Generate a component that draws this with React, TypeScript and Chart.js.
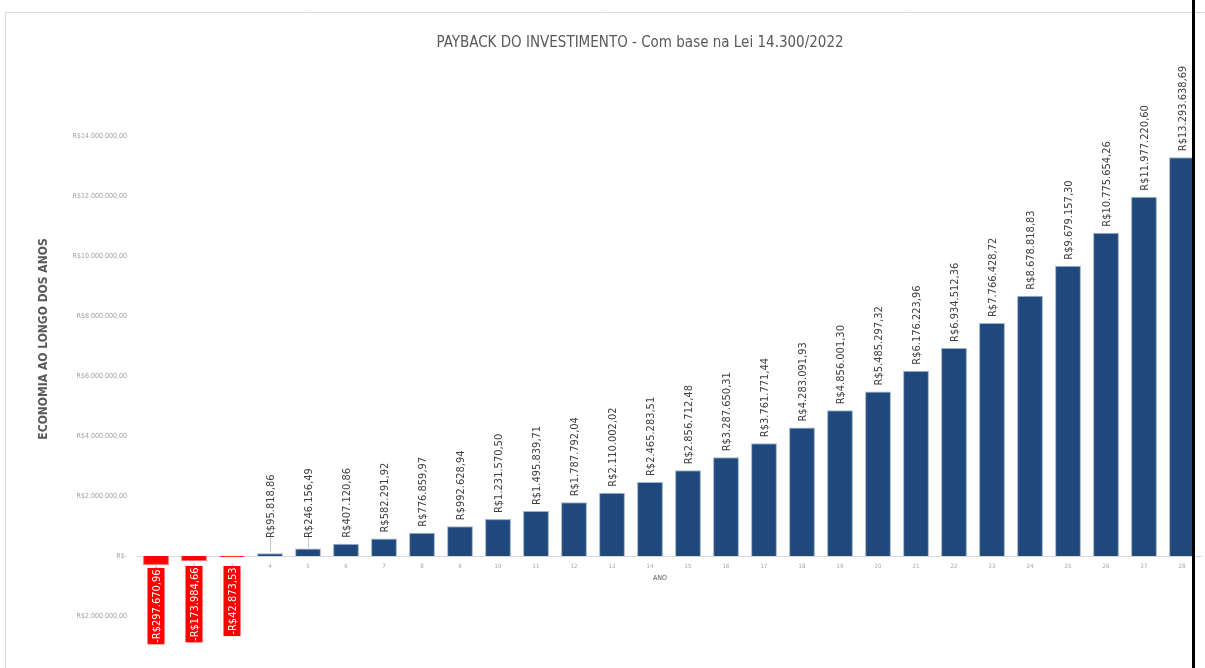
import { useEffect, useRef } from "react";
import { Chart, registerables } from "chart.js";

Chart.register(...registerables);

const TITLE = "PAYBACK DO INVESTIMENTO - Com base na Lei 14.300/2022";
const Y_TITLE = "ECONOMIA AO LONGO DOS ANOS";
const X_TITLE = "ANO";

const years = [
  "1", "2", "3", "4", "5", "6", "7", "8", "9", "10", "11", "12", "13", "14",
  "15", "16", "17", "18", "19", "20", "21", "22", "23", "24", "25", "26", "27", "28",
];

const savings = [
  -297670.96, -173984.66, -42873.53, 95818.86, 246156.49, 407120.86, 582291.92,
  776859.97, 992628.94, 1231570.5, 1495839.71, 1787792.04, 2110002.02, 2465283.51,
  2856712.48, 3287650.31, 3761771.44, 4283091.93, 4856001.3, 5485297.32, 6176223.96,
  6934512.36, 7766428.72, 8678818.83, 9679157.3, 10775654.26, 11977220.6, 13293638.69,
];

const Y_MIN = -2000000;
const Y_MAX = 14000000;
const Y_STEP = 2000000;

const NARROW = "'Liberation Sans Narrow', 'DejaVu Sans Condensed', 'Liberation Sans', sans-serif";

function groupInt(s: string) {
  return s.replace(/\B(?=(\d{3})+(?!\d))/g, ".");
}

function brl(v: number) {
  const neg = v < 0;
  const [i, d] = Math.abs(v).toFixed(2).split(".");
  return (neg ? "-" : "") + "R$" + groupInt(i) + "," + d;
}

function tickLabel(v: number) {
  if (v === 0) return "R$-";
  const [i, d] = Math.abs(v).toFixed(2).split(".");
  return "R$" + groupInt(i) + "," + d;
}

const decorPlugin = {
  id: "decor",
  beforeDraw(chart: any) {
    const ctx = chart.ctx;
    ctx.save();
    ctx.fillStyle = "#ffffff";
    ctx.fillRect(0, 0, chart.width, chart.height);
    ctx.restore();
  },
  afterDatasetsDraw(chart: any) {
    const ctx = chart.ctx;
    const meta = chart.getDatasetMeta(0);
    const zeroY = chart.scales.y.getPixelForValue(0);
    ctx.save();
    ctx.font = `11px ${NARROW}`;
    meta.data.forEach((bar: any, i: number) => {
      const v = savings[i];
      const text = brl(v);
      const w = ctx.measureText(text).width;
      if (v >= 0) {
        const top = bar.y;
        const base = Math.min(top - 6, zeroY - 18);
        if (top - base > 8) {
          ctx.strokeStyle = "#c8c8c8";
          ctx.lineWidth = 1;
          ctx.beginPath();
          ctx.moveTo(Math.round(bar.x) + 0.5, top - 1);
          ctx.lineTo(Math.round(bar.x) + 0.5, base - 1);
          ctx.stroke();
        }
        ctx.save();
        ctx.translate(bar.x + 1, base);
        ctx.rotate(-Math.PI / 2);
        ctx.fillStyle = "#404040";
        ctx.textAlign = "left";
        ctx.textBaseline = "middle";
        ctx.fillText(text, 0, 0);
        ctx.restore();
      } else {
        const bottom = bar.y;
        const boxTop = Math.max(bottom + 3, zeroY + 10);
        const boxH = w + 3;
        const boxW = 17;
        ctx.fillStyle = "#FF0000";
        ctx.fillRect(bar.x - boxW / 2, boxTop, boxW, boxH);
        ctx.save();
        ctx.translate(bar.x + 1, boxTop + boxH - 1.5);
        ctx.rotate(-Math.PI / 2);
        ctx.fillStyle = "#ffffff";
        ctx.textAlign = "left";
        ctx.textBaseline = "middle";
        ctx.fillText(text, 0, 0);
        ctx.restore();
      }
    });
    ctx.restore();
  },
  afterDraw(chart: any) {
    const ctx = chart.ctx;
    ctx.save();
    // frame
    ctx.strokeStyle = "#d9d9d9";
    ctx.lineWidth = 1;
    ctx.beginPath();
    ctx.moveTo(5.5, chart.height);
    ctx.lineTo(5.5, 12.5);
    ctx.lineTo(chart.width, 12.5);
    ctx.stroke();
    // title
    ctx.fillStyle = "#595959";
    ctx.font = `15px ${NARROW}`;
    ctx.textAlign = "center";
    ctx.textBaseline = "middle";
    ctx.fillText(TITLE, 640, 43);
    // y title
    ctx.save();
    ctx.translate(44, 339);
    ctx.rotate(-Math.PI / 2);
    ctx.font = `bold 12px ${NARROW}`;
    ctx.fillText(Y_TITLE, 0, 0);
    ctx.restore();
    // x title
    ctx.font = `7px ${NARROW}`;
    ctx.fillText(X_TITLE, 660, 578);
    // black edge line
    ctx.fillStyle = "#000000";
    ctx.fillRect(1192, 0, 3, chart.height);
    ctx.restore();
  },
};

export default function App() {
  const ref = useRef<HTMLCanvasElement | null>(null);

  useEffect(() => {
    if (!ref.current) return;
    const chart = new Chart(ref.current, {
      type: "bar",
      data: {
        labels: years,
        datasets: [
          {
            data: savings,
            backgroundColor: savings.map((v) => (v < 0 ? "#FF0000" : "#1F497D")),
            borderColor: savings.map((v) => (v < 0 ? "#FF7070" : "#9FB3CE")),
            borderWidth: 1,
            barPercentage: 0.68,
            categoryPercentage: 1,
          },
        ],
      },
      options: {
        responsive: false,
        animation: false,
        devicePixelRatio: 1,
        layout: { padding: { left: 0, right: 4, top: 136, bottom: 52 } },
        plugins: {
          legend: { display: false },
          title: { display: false },
          tooltip: { enabled: false },
        },
        scales: {
          x: {
            position: { y: 0 } as any,
            afterFit: (s: any) => {
              s.height = 0;
            },
            grid: { display: false, drawTicks: false },
            border: { display: true, color: "#d9d9d9", width: 1 },
            ticks: {
              color: "#a6a6a6",
              font: { family: NARROW, size: 6 },
              padding: 7,
              maxRotation: 0,
              autoSkip: false,
            },
          },
          y: {
            min: Y_MIN,
            max: Y_MAX,
            afterFit: (s: any) => {
              s.width = 137;
            },
            grid: { display: false, drawTicks: false },
            border: { display: false },
            ticks: {
              stepSize: Y_STEP,
              color: "#a0a0a0",
              font: { family: NARROW, size: 7 },
              padding: 10,
              callback: (v: any) => tickLabel(Number(v)),
            },
          },
        },
      },
      plugins: [decorPlugin],
    });
    return () => chart.destroy();
  }, []);

  return (
    <canvas
      ref={ref}
      width={1205}
      height={668}
      style={{ position: "fixed", left: 0, top: 0, width: 1205, height: 668 }}
    />
  );
}
